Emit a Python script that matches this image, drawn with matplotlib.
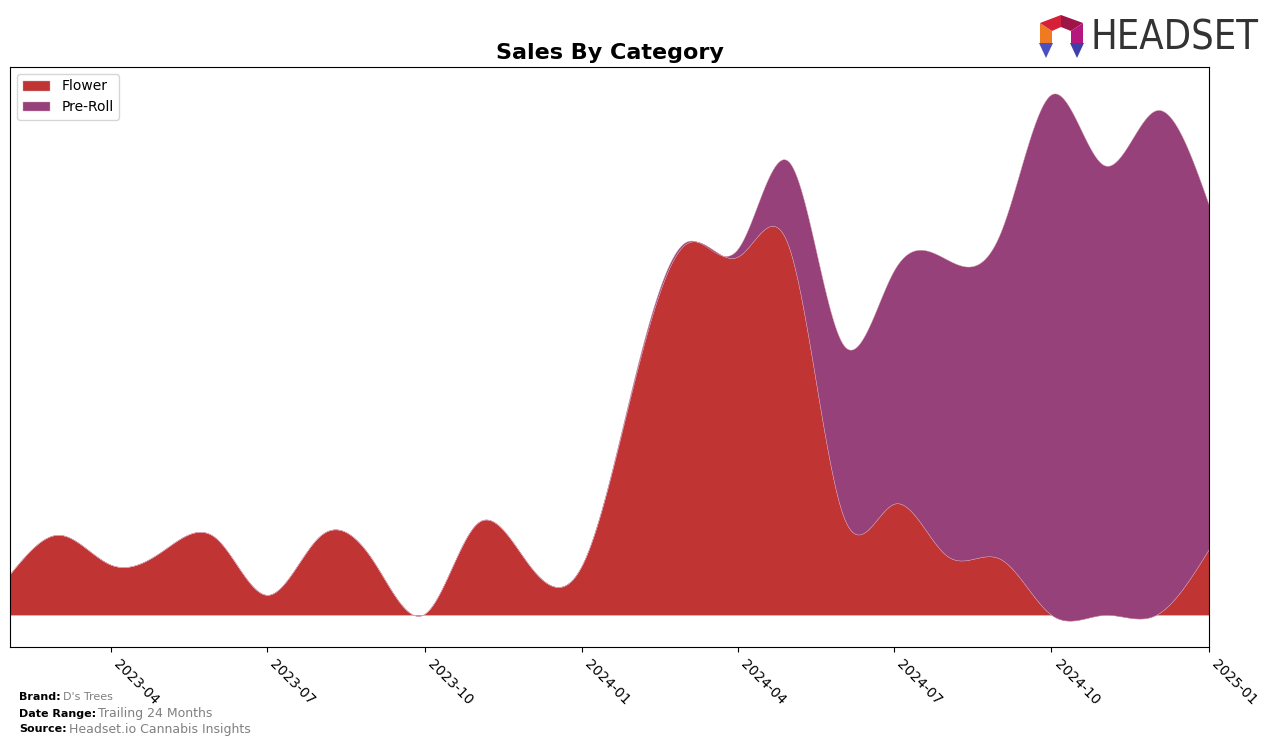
import numpy as np
import pandas as pd
import matplotlib
matplotlib.use('Agg')
import matplotlib.pyplot as plt
import matplotlib.dates as mdates
from matplotlib.patches import Polygon
from matplotlib import font_manager

# monthly values (arbitrary units)
months = pd.date_range('2023-02-01', '2025-01-01', freq='MS')
flower = [41, 80, 50, 64, 77, 20, 79, 54, 1, 92, 50, 50,
          237, 370, 358, 366, 101, 111, 59, 56, 0, 0, 0, 66]
pre_roll = [0, 0, 0, 0, 0, 0, 0, 0, 0, 0, 0, 0,
            3, 2, 8, 86, 170, 233, 296, 325, 520, 449, 504, 343]
categories = ['Flower', 'Pre-Roll']
colors = ['#C03434', '#96417A']


def spline(x, y, xs):
    """
    Natural cubic spline through (x, y), evaluated at xs.
    """
    x = np.asarray(x, float)
    y = np.asarray(y, float)
    n = len(x)
    h = np.diff(x)
    A = np.zeros((n, n))
    b = np.zeros(n)
    for i in range(1, n - 1):
        A[i, i - 1] = h[i - 1]
        A[i, i] = 2 * (h[i - 1] + h[i])
        A[i, i + 1] = h[i]
        b[i] = 6 * ((y[i + 1] - y[i]) / h[i] - (y[i] - y[i - 1]) / h[i - 1])
    A[0, 0] = 1
    A[-1, -1] = 1
    M = np.linalg.solve(A, b)
    idx = np.clip(np.searchsorted(x, xs) - 1, 0, n - 2)
    x0, x1 = x[idx], x[idx + 1]
    hh = x1 - x0
    return (M[idx] * (x1 - xs) ** 3 / (6 * hh) + M[idx + 1] * (xs - x0) ** 3 / (6 * hh)
            + (y[idx] / hh - M[idx] * hh / 6) * (x1 - xs)
            + (y[idx + 1] / hh - M[idx + 1] * hh / 6) * (xs - x0))


xnum = mdates.date2num(months)
xs = np.linspace(xnum[0], xnum[-1], 600)
smooth = [spline(xnum, s, xs) for s in (flower, pre_roll)]

fig = plt.figure(figsize=(12.76, 7.46), dpi=100)
ax = fig.add_axes([10 / 1276, 1 - 647 / 746, 1199 / 1276, 580 / 746])
ax.stackplot(xs, *smooth, labels=categories, colors=colors, linewidth=0.3, edgecolor='#d9a0b0')
ax.set_xlim(xnum[0], xnum[-1])
ax.set_yticks([])
ax.xaxis.set_major_locator(mdates.MonthLocator(bymonth=[1, 4, 7, 10]))
ax.xaxis.set_major_formatter(mdates.DateFormatter('%Y-%m'))
for lab in ax.get_xticklabels():
    lab.set_rotation(-45)
    lab.set_ha('left')
    lab.set_fontsize(10)
ax.set_title('Sales By Category', fontsize=16, fontweight='bold', pad=6)
ax.legend(loc='upper left', fontsize=10)

# footer
fig.canvas.draw()
r = fig.canvas.get_renderer()
rows = [('Brand:', "D's Trees", 697, 8), ('Date Range:', 'Trailing 24 Months', 714, 9),
        ('Source:', 'Headset.io Cannabis Insights', 729, 9)]
for key, val, ypx, fs in rows:
    t = fig.text(19 / 1276, 1 - ypx / 746, key, fontsize=8, fontweight='bold', va='center')
    bb = t.get_window_extent(r)
    fig.text(bb.x1 / 1276 + 2 / 1276, 1 - ypx / 746, val, fontsize=fs, color='#808080', va='center')

# logo
fonts = font_manager.fontManager.ttflist
names = {f.name for f in fonts}
condensed = any(f.name == 'DejaVu Sans' and f.stretch == 'condensed' for f in fonts)
if 'Liberation Sans Narrow' in names:
    logo_kw = dict(family='Liberation Sans Narrow', fontsize=34)
elif condensed:
    logo_kw = dict(family='DejaVu Sans', fontstretch='condensed', fontsize=28.5)
else:
    logo_kw = dict(family='DejaVu Sans', fontsize=26)
fig.text(1091 / 1276, 1 - 39 / 746, 'HEADSET', color='#333333', va='center', ha='left', **logo_kw)

icon = [
    ([(1040, 23), (1052, 31), (1052, 43), (1040, 43)], '#F07A22'),
    ([(1040, 23), (1061, 15), (1061, 27), (1052, 31)], '#D6203A'),
    ([(1061, 15), (1083, 23), (1071, 31), (1061, 27)], '#9E1446'),
    ([(1083, 23), (1083, 43), (1071, 43), (1071, 31)], '#B5177F'),
    ([(1039, 43), (1053, 43), (1046, 58)], '#4B4FBF'),
    ([(1070, 43), (1084, 43), (1077, 58)], '#3F3FA8'),
]
for pts, c in icon:
    fig.patches.append(Polygon([(px / 1276, 1 - py / 746) for px, py in pts], closed=True,
                               facecolor=c, edgecolor='none', transform=fig.transFigure))

fig.savefig('out.png', dpi=100)
